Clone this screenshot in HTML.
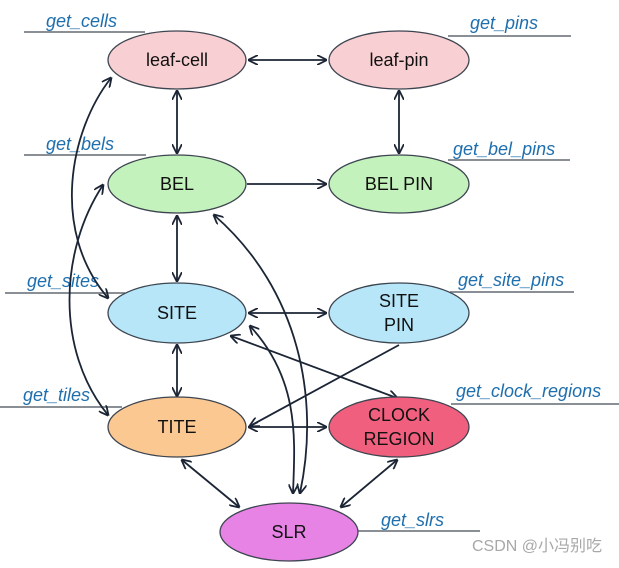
<!DOCTYPE html>
<html><head><meta charset="utf-8"><style>
html,body{margin:0;padding:0;background:#fff;}
svg text{font-family:"Liberation Sans",Arial,sans-serif;}
.l{font-style:italic;font-size:18px;fill:#1f6fae;}
.n{font-size:18px;fill:#111;text-anchor:middle;}
</style></head><body>
<svg width="619" height="563" viewBox="0 0 619 563" xmlns="http://www.w3.org/2000/svg">
<defs>
<marker id="a" viewBox="0 0 10 10" refX="9" refY="5" markerWidth="10" markerHeight="10" orient="auto-start-reverse" markerUnits="userSpaceOnUse">
<path d="M0,0 L10,5 L0,10" fill="none" stroke="#1b2535" stroke-width="1.8"/>
</marker>
</defs>
<g stroke="#8a8f96" stroke-width="2">
<line x1="24" y1="32" x2="145" y2="32"/>
<line x1="448" y1="36" x2="571" y2="36"/>
<line x1="24" y1="155" x2="146" y2="155"/>
<line x1="448" y1="160" x2="570" y2="160"/>
<line x1="5" y1="293" x2="125" y2="293"/>
<line x1="450" y1="292" x2="574" y2="292"/>
<line x1="0" y1="407" x2="122" y2="407"/>
<line x1="451" y1="404" x2="619" y2="404"/>
<line x1="358" y1="531" x2="480" y2="531"/>
</g>
<text class="l" x="46" y="27">get_cells</text>
<text class="l" x="470" y="29">get_pins</text>
<text class="l" x="46" y="150">get_bels</text>
<text class="l" x="453" y="155">get_bel_pins</text>
<text class="l" x="27" y="287">get_sites</text>
<text class="l" x="458" y="286">get_site_pins</text>
<text class="l" x="23" y="401">get_tiles</text>
<text class="l" x="456" y="397">get_clock_regions</text>
<text class="l" x="381" y="526">get_slrs</text>
<g stroke="#1b2535" stroke-width="1.8" fill="none">
<line x1="249" y1="60" x2="326" y2="60" marker-start="url(#a)" marker-end="url(#a)"/>
<line x1="177" y1="91" x2="177" y2="153" marker-start="url(#a)" marker-end="url(#a)"/>
<line x1="399" y1="91" x2="399" y2="153" marker-start="url(#a)" marker-end="url(#a)"/>
<line x1="247" y1="184" x2="326" y2="184" marker-end="url(#a)"/>
<line x1="177" y1="216" x2="177" y2="281" marker-start="url(#a)" marker-end="url(#a)"/>
<line x1="249" y1="313" x2="326" y2="313" marker-start="url(#a)" marker-end="url(#a)"/>
<line x1="177" y1="345" x2="177" y2="396" marker-start="url(#a)" marker-end="url(#a)"/>
<line x1="249" y1="427" x2="326" y2="427" marker-start="url(#a)" marker-end="url(#a)"/>
<line x1="399" y1="345" x2="250" y2="426" marker-end="url(#a)"/>
<line x1="231" y1="336" x2="397" y2="398" marker-start="url(#a)" marker-end="url(#a)"/>
<line x1="182" y1="460" x2="239" y2="507" marker-start="url(#a)" marker-end="url(#a)"/>
<line x1="397" y1="460" x2="341" y2="507" marker-start="url(#a)" marker-end="url(#a)"/>
<path d="M250,326 C300,380 295,440 293,493" marker-start="url(#a)" marker-end="url(#a)"/>
<path d="M214,215 C300,290 320,400 300,493" marker-start="url(#a)" marker-end="url(#a)"/>
<path d="M111,78 C70,130 50,230 108,298" marker-start="url(#a)" marker-end="url(#a)"/>
<path d="M103,185 C60,250 55,350 108,415" marker-start="url(#a)" marker-end="url(#a)"/>
</g>
<g stroke="#3d4550" stroke-width="1.3">
<ellipse cx="177" cy="60" rx="69" ry="29" fill="#f8d0d3"/>
<ellipse cx="399" cy="60" rx="70" ry="29" fill="#f8d0d3"/>
<ellipse cx="177" cy="184" rx="69" ry="29" fill="#c4f2bc"/>
<ellipse cx="399" cy="184" rx="70" ry="29" fill="#c4f2bc"/>
<ellipse cx="177" cy="313" rx="69" ry="30" fill="#b6e6f8"/>
<ellipse cx="399" cy="313" rx="70" ry="30" fill="#b6e6f8"/>
<ellipse cx="177" cy="427" rx="69" ry="30" fill="#fbc891"/>
<ellipse cx="399" cy="427" rx="70" ry="30" fill="#f0607e"/>
<ellipse cx="289" cy="532" rx="69" ry="29" fill="#e883e6"/>
</g>
<text class="n" x="177" y="66">leaf-cell</text>
<text class="n" x="399" y="66">leaf-pin</text>
<text class="n" x="177" y="190">BEL</text>
<text class="n" x="399" y="190">BEL PIN</text>
<text class="n" x="177" y="319">SITE</text>
<text class="n" x="399" y="307">SITE</text>
<text class="n" x="399" y="331">PIN</text>
<text class="n" x="177" y="433">TITE</text>
<text class="n" x="399" y="421">CLOCK</text>
<text class="n" x="399" y="445">REGION</text>
<text class="n" x="289" y="538">SLR</text>
<text x="472" y="551" style="font-size:16px;fill:#a8a8a8;font-family:'Liberation Sans','Noto Sans CJK SC',sans-serif;">CSDN @小冯别吃</text>
</svg>
</body></html>
